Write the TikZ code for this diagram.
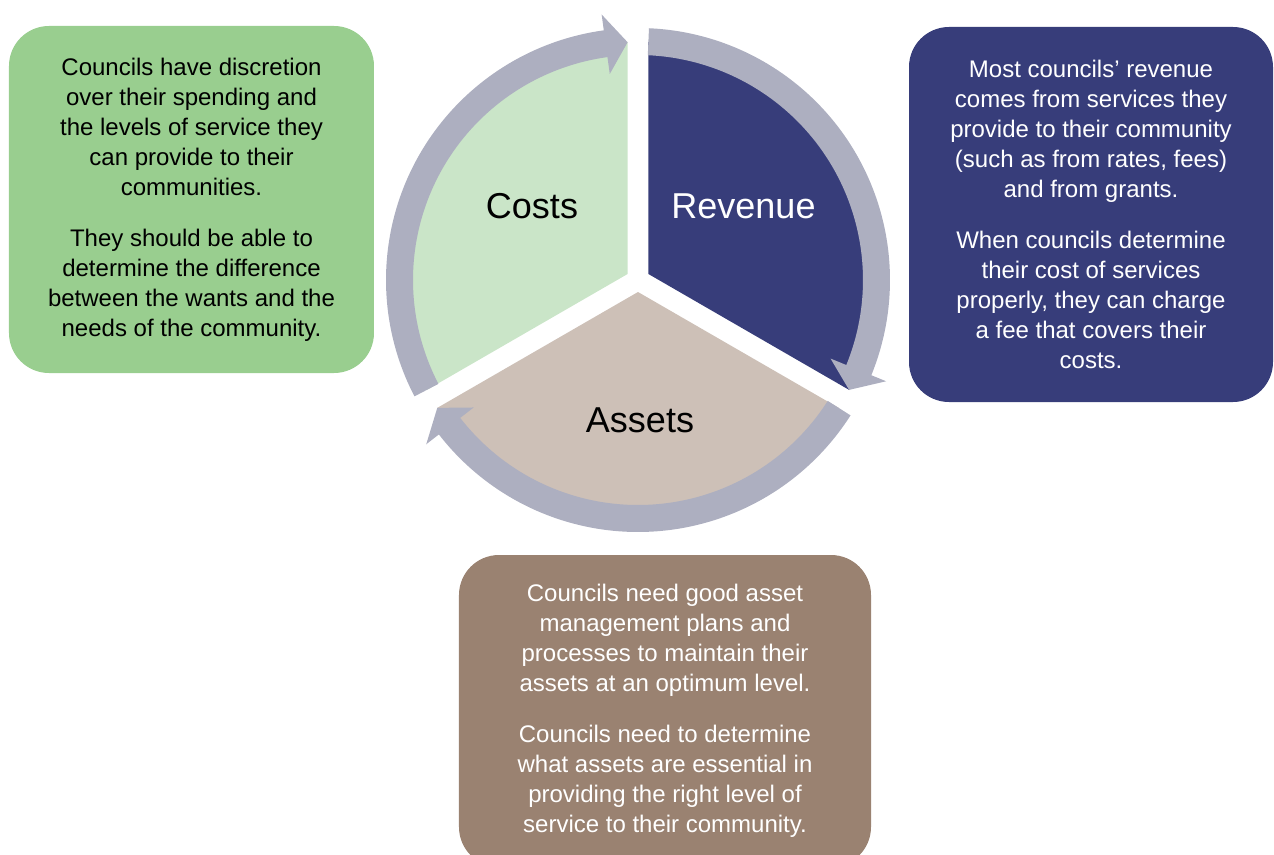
\documentclass[tikz,border=0pt]{standalone}
\usepackage{fontspec}
\setmainfont{Liberation Sans}

\definecolor{costsgreen}{RGB}{202,229,200}
\definecolor{revenueblue}{RGB}{55,61,122}
\definecolor{assetsbeige}{RGB}{205,192,183}
\definecolor{ringgrey}{RGB}{173,175,192}
\definecolor{notegreen}{RGB}{153,206,143}
\definecolor{notebrown}{RGB}{154,130,113}

\begin{document}
\begin{tikzpicture}[
  x=1pt,
  y=1pt,
  note/.style={
    rounded corners=40pt,
    inner sep=0pt,
    align=center,
    font=\fontsize{24}{30}\selectfont
  },
  part/.style={
    anchor=base,
    font=\fontsize{36}{43}\selectfont
  },
  ring/.style={
    fill=ringgrey
  }
  ]

  \useasboundingbox (-638,-574) rectangle (636,280);

  % the three segments
  \fill[costsgreen] (150:12) -- ++(90:232) arc[start angle=90, end angle=210, radius=232] -- cycle;
  \fill[revenueblue] (30:12) -- ++(90:232) arc[start angle=90, end angle=-30, radius=232] -- cycle;
  \fill[assetsbeige] (270:12) -- ++(210:232) arc[start angle=210, end angle=330, radius=232] -- cycle;

  % cycle arrows
  \foreach \a in {207.5,87.5,-32.5} {
    \pgfmathsetmacro{\headbase}{\a-109.7}
    \pgfmathsetmacro{\headtip}{\a-115}
    \fill[ring] (\a:252) arc[start angle=\a, end angle=\headbase, radius=252]
      -- (\headbase:268) -- (\headtip:238) -- (\headbase:208) -- (\headbase:225)
      arc[start angle=\headbase, end angle=\a, radius=225] -- cycle;
  }

  \node (costs) [part] at (-106,62) {Costs};
  \node (revenue) [part,text=white] at (105.5,62) {Revenue};
  \node (assets) [part] at (2,-152) {Assets};

  \node (costs-note) [note,fill=notegreen,minimum width=365pt,minimum height=347pt] at (-446.5,80.5)
    {Councils have discretion\\over their spending and\\the levels of service they\\can provide to their\\communities.\\[21pt]
     They should be able to\\determine the difference\\between the wants and the\\needs of the community.};
  \node (revenue-note) [note,fill=revenueblue,text=white,minimum width=364pt,minimum height=375pt] at (453,65.5)
    {Most councils’ revenue\\comes from services they\\provide to their community\\(such as from rates, fees)\\and from grants.\\[21pt]
     When councils determine\\their cost of services\\properly, they can charge\\a fee that covers their\\costs.};
  \node (assets-note) [note,fill=notebrown,text=white,minimum width=412pt,minimum height=312pt] at (27,-431)
    {Councils need good asset\\management plans and\\processes to maintain their\\assets at an optimum level.\\[21pt]
     Councils need to determine\\what assets are essential in\\providing the right level of\\service to their community.};
\end{tikzpicture}
\end{document}
